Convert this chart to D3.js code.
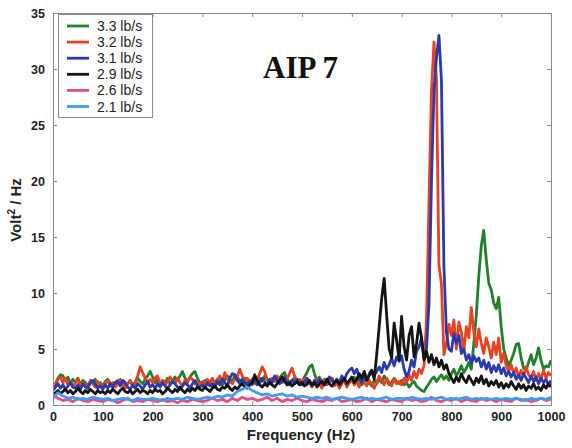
<!DOCTYPE html>
<html><head><meta charset="utf-8">
<script src="https://cdn.jsdelivr.net/npm/d3@7"></script>
<style>body{margin:0;background:#fff}</style>
</head><body><svg id="c" width="572" height="448"></svg>
<script>
const freq5 = d3.range(0, 1001, 5);
const freq10 = d3.range(0, 1001, 10);
const seriesNames = ["3.3 lb/s","3.2 lb/s","3.1 lb/s","2.9 lb/s","2.6 lb/s","2.1 lb/s"];
const seriesColors = ["#22802a","#e8421e","#2b3aae","#141414","#e64f86","#3f9cf2"];
const xTicks = [0,100,200,300,400,500,600,700,800,900,1000];
const yTicks = [0,5,10,15,20,25,30,35];

const s33 = [1.6,1.9,2.4,2.7,2.6,2.2,2.5,1.9,2.3,2.0, 2.4,1.8,2.2,2.0,1.7,2.1,1.9,2.3,1.8,2.0,
 1.7,2.1,2.3,1.9,1.6,2.0,2.2,1.8,2.1,1.7, 1.9,2.2,1.8,2.0,2.4,2.1,1.9,2.3,2.6,3.0,
 2.5,2.0,2.3,1.8,2.2,2.0,2.4,1.9,2.1,2.5, 2.2,2.6,3.0,2.4,2.1,2.5,2.8,3.0,2.4,2.0,
 1.8,2.2,1.9,2.1,1.7,2.0,2.3,2.1,1.8,2.2, 2.6,2.4,2.0,2.7,2.5,2.2,2.0,2.4,1.9,2.1,
 1.8,2.2,2.0,2.4,2.1,2.6,2.3,2.0,2.2,2.5, 2.1,2.4,2.7,2.9,2.3,2.0,2.2,2.4,2.0,1.9,
 2.1,2.5,2.9,3.4,3.6,2.8,2.2,2.5,2.0,2.3, 1.9,2.1,2.4,2.0,2.2,1.8,2.1,2.3,1.9,2.0,
 2.2,2.5,2.0,2.3,1.8,2.1,2.4,2.0,1.7,2.2, 1.9,2.3,2.0,2.6,2.2,1.8,2.0,2.4,2.1,1.9,
 2.2,1.8,2.0,1.6,1.9,2.1,1.7,1.5,1.3,1.2, 1.6,1.9,2.3,2.5,2.1,2.4,2.7,2.3,2.6,2.2,
 2.8,3.2,2.6,3.0,3.5,2.9,3.3,3.8,3.2,5.5, 8.0,11.5,14.2,15.6,13.0,10.9,10.3,9.1,8.6,9.6,
 7.0,5.0,4.2,3.5,4.0,4.6,5.4,5.5,4.2,3.3, 3.1,3.8,4.5,3.6,4.2,5.1,4.0,3.2,3.5,3.4, 4.0];
const s32 = [1.5,1.8,2.3,2.5,2.0,2.4,1.8,2.1,1.6,2.0, 2.3,1.7,2.0,1.8,1.5,2.2,1.9,1.6,2.1,1.8,
 1.6,1.9,2.2,1.7,2.0,1.6,1.9,2.3,1.8,1.5, 1.9,2.1,1.7,2.0,2.6,3.4,2.9,2.4,2.0,2.3,
 2.0,2.4,2.6,1.9,2.2,1.8,2.1,2.5,2.2,1.9, 2.4,2.0,1.7,2.2,2.0,2.5,2.3,1.9,2.1,1.8,
 2.1,1.8,2.3,2.0,2.4,1.9,2.2,2.6,2.0,2.9, 2.4,2.1,1.9,2.3,2.5,3.2,2.6,2.0,2.4,2.1,
 2.3,1.9,2.2,2.8,3.4,3.0,2.3,2.0,2.4,2.1, 2.6,2.2,2.0,2.5,2.3,2.8,3.3,2.6,2.1,2.3,
 2.0,2.4,1.8,2.1,1.6,2.0,2.3,1.9,1.5,2.2, 1.8,2.1,2.4,1.7,2.0,1.5,1.9,2.2,1.6,2.0,
 2.3,1.8,2.1,1.6,2.4,2.0,1.7,2.2,1.9,1.5, 2.0,2.6,2.2,1.8,2.4,2.0,1.7,2.3,1.9,2.1,
 1.8,2.4,2.0,2.7,2.2,3.0,2.4,3.2,2.8,3.5, 7.5,18.0,28.0,32.4,29.0,12.5,10.8,4.5,5.5,7.2,
 6.2,7.6,5.0,7.4,6.5,4.8,7.0,6.0,8.7,6.5, 5.2,6.8,5.5,4.6,6.0,5.2,4.2,5.6,4.5,6.0,
 3.8,4.6,3.5,3.0,3.6,2.8,3.3,2.5,3.1,2.6, 3.4,2.7,2.4,3.0,2.2,2.8,2.3,3.1,2.4,2.9, 2.6];
const s31 = [1.3,1.6,1.9,1.5,1.8,1.4,1.7,2.0,1.6,1.5, 1.8,1.4,1.9,1.6,1.5,2.0,2.2,1.8,1.5,1.7,
 1.4,1.8,1.5,1.9,1.6,2.0,2.1,1.7,2.2,2.0, 1.6,1.4,1.8,1.5,1.9,1.7,1.4,1.8,2.1,1.6,
 1.8,1.5,1.9,1.6,2.0,1.7,1.5,1.8,2.1,1.9, 1.6,1.4,1.7,2.0,1.8,1.5,1.9,2.2,1.7,1.6,
 1.8,1.5,2.0,1.7,1.9,1.6,2.1,1.8,2.3,2.0, 1.7,2.4,2.8,2.7,2.2,1.9,2.3,2.0,1.8,2.1,
 1.9,2.2,1.8,2.0,2.4,2.1,1.8,2.3,2.0,2.6, 2.2,1.9,2.1,2.5,2.0,1.8,2.2,1.9,2.3,2.0,
 1.8,2.1,2.4,2.0,1.7,2.2,1.9,2.3,2.0,1.8, 2.1,2.5,2.2,1.9,2.3,2.0,2.6,2.2,2.8,3.1,
 3.3,2.8,3.2,2.4,2.0,2.6,2.2,2.8,3.1,2.6, 3.0,3.4,2.9,3.8,3.2,3.6,4.2,3.5,4.3,3.9,
 4.4,3.2,2.5,3.0,4.0,3.4,4.8,5.2,6.0,4.2, 5.0,9.0,20.0,28.0,31.0,33.0,29.0,12.3,6.5,5.0,
 4.8,6.4,5.5,6.2,4.6,5.0,4.0,4.5,3.7,4.4, 3.9,4.2,3.4,4.0,3.2,3.8,2.9,3.5,3.0,3.6,
 2.8,3.3,2.6,3.0,2.5,2.9,2.3,2.7,2.2,2.8, 2.4,2.0,2.6,2.1,2.5,1.9,2.4,2.0,2.3,1.8, 2.2];
const s29 = [0.9,1.1,1.3,1.0,1.2,1.4,1.1,1.3,1.0,1.2, 1.5,1.2,1.0,1.3,1.1,1.4,1.2,1.0,1.3,1.1,
 1.2,1.0,1.3,1.1,1.4,1.2,1.0,1.3,1.5,1.2, 1.1,1.3,1.0,1.2,1.4,1.1,1.3,1.2,1.0,1.3,
 1.1,1.4,1.2,1.3,1.0,1.2,1.5,1.3,1.1,1.4, 1.2,1.6,1.3,1.1,1.4,1.2,1.5,1.3,1.6,1.4,
 1.3,1.6,1.4,1.2,1.5,1.7,1.4,1.3,1.6,1.5, 1.8,1.5,1.3,1.6,1.4,1.7,1.9,1.6,1.5,1.8,
 2.0,2.7,2.2,1.8,1.6,1.9,1.7,2.0,1.8,1.6, 1.9,2.2,2.5,2.1,1.8,2.0,1.7,1.9,2.1,1.8,
 2.0,1.7,1.9,2.2,1.8,2.0,1.6,1.9,2.1,1.8, 2.3,1.9,1.7,2.0,2.2,1.8,2.1,2.4,1.9,2.2,
 2.5,2.0,2.3,2.8,2.4,3.0,2.2,2.6,3.1,2.3, 4.5,7.0,9.5,11.3,8.0,5.0,4.2,7.3,5.8,4.0,
 7.9,5.2,4.0,6.2,7.0,4.3,5.5,7.3,6.0,4.0, 4.8,3.8,4.5,3.6,4.2,3.4,4.0,3.2,3.6,2.8,
 2.4,2.0,2.5,2.1,2.8,2.3,2.0,2.6,2.2,1.8, 2.4,2.0,2.6,1.9,2.3,1.7,2.1,1.8,2.2,1.6,
 2.0,1.5,1.9,1.6,2.1,1.7,1.4,1.9,1.5,1.8, 1.3,1.7,1.5,1.9,1.4,1.6,1.3,1.8,1.5,1.9, 1.6];
const s26 = [0.9,0.6,0.4,0.5,0.3,0.6,0.4,0.3,0.5,0.4,
 0.3,0.5,0.4,0.2,0.4,0.6,0.3,0.4,0.3,0.5,
 0.4,0.3,0.5,0.3,0.4,0.2,0.4,0.3,0.5,0.4,
 0.3,0.4,0.6,0.4,0.5,0.3,0.6,0.4,0.7,0.5,
 0.6,0.4,0.5,0.7,0.4,0.6,0.3,0.5,0.4,0.6,
 0.4,0.3,0.5,0.4,0.3,0.5,0.4,0.6,0.3,0.4,
 0.5,0.3,0.4,0.6,0.3,0.5,0.4,0.3,0.5,0.4,
 0.3,0.6,0.4,0.5,0.3,0.4,0.7,0.4,0.3,0.5,
 0.4,0.6,0.3,0.5,0.4,0.3,0.6,0.4,0.5,0.3,
 0.5,0.4,0.3,0.6,0.4,0.5,0.3,0.4,0.6,0.4,0.5];
const s21 = [0.6,1.1,0.8,0.6,0.7,0.5,0.6,0.5,0.7,0.6,
 0.5,0.6,0.4,0.5,0.6,0.5,0.4,0.6,0.5,0.5,
 0.6,0.5,0.4,0.6,0.5,0.6,0.5,0.7,0.6,0.5,
 0.6,0.7,0.6,0.8,0.7,0.9,0.8,1.2,1.4,1.6,
 1.3,1.1,0.9,1.0,0.8,0.9,1.0,0.8,0.9,0.7,
 0.8,0.7,0.6,0.7,0.6,0.7,0.5,0.6,0.7,0.6,
 0.5,0.6,0.7,0.5,0.6,0.5,0.6,0.7,0.5,0.6,
 0.6,0.5,0.7,0.6,0.5,0.6,0.5,0.6,0.7,0.5,
 0.6,0.5,0.6,0.7,0.5,0.6,0.5,0.6,0.5,0.6,
 0.5,0.6,0.5,0.6,0.5,0.4,0.6,0.5,0.6,0.5,0.7];

const series = [
  {name: seriesNames[0], color: seriesColors[0], x: freq5, y: s33},
  {name: seriesNames[1], color: seriesColors[1], x: freq5, y: s32},
  {name: seriesNames[2], color: seriesColors[2], x: freq5, y: s31},
  {name: seriesNames[3], color: seriesColors[3], x: freq5, y: s29},
  {name: seriesNames[4], color: seriesColors[4], x: freq10, y: s26},
  {name: seriesNames[5], color: seriesColors[5], x: freq10, y: s21}
];

const L = 53, R = 551, T = 13, B = 405;
const svg = d3.select("#c");
const x = d3.scaleLinear().domain([0, 1000]).range([L, R]);
const y = d3.scaleLinear().domain([0, 35]).range([B, T]);

svg.append("clipPath").attr("id","clip").append("rect")
  .attr("x", L).attr("y", T).attr("width", R - L).attr("height", B - T);

const lineGen = d3.line().x(d => x(d[0])).y(d => y(d[1]));
const g = svg.append("g").attr("clip-path", "url(#clip)");
series.forEach(s => {
  g.append("path")
    .attr("d", lineGen(s.x.map((f, i) => [f, s.y[i]])))
    .attr("fill", "none").attr("stroke", s.color)
    .attr("stroke-width", 2.8).attr("stroke-linejoin", "round");
});

const axColor = "#8a8a8a";
const font = "'Liberation Sans', Arial, sans-serif";
const xb = svg.append("g").attr("transform", `translate(0,${B})`)
  .call(d3.axisBottom(x).tickValues(xTicks).tickSize(-4).tickPadding(7).tickFormat(d3.format("d")));
const xt = svg.append("g").attr("transform", `translate(0,${T})`)
  .call(d3.axisTop(x).tickValues(xTicks).tickSize(-4).tickFormat(""));
const yl = svg.append("g").attr("transform", `translate(${L},0)`)
  .call(d3.axisLeft(y).tickValues(yTicks).tickSize(-4).tickPadding(8));
const yr = svg.append("g").attr("transform", `translate(${R},0)`)
  .call(d3.axisRight(y).tickValues(yTicks).tickSize(-4).tickFormat(""));
[xb, xt, yl, yr].forEach(a => {
  a.selectAll(".domain").attr("stroke", axColor).attr("stroke-width", 1);
  a.selectAll(".tick line").attr("stroke", axColor);
  a.selectAll("text").attr("font-family", font).attr("font-size", 12.5)
    .attr("font-weight", "bold").attr("fill", "#222");
});

svg.append("text").attr("x", 301).attr("y", 440).attr("text-anchor", "middle")
  .attr("font-family", font).attr("font-size", 15).attr("font-weight", "bold").attr("fill", "#222")
  .text("Frequency (Hz)");
const yLab = svg.append("text").attr("transform", "translate(21,210) rotate(-90)")
  .attr("text-anchor", "middle").attr("font-family", font).attr("font-size", 15)
  .attr("font-weight", "bold").attr("fill", "#222");
yLab.append("tspan").text("Volt");
yLab.append("tspan").attr("dy", -6).attr("font-size", 10).text("2");
yLab.append("tspan").attr("dy", 6).text(" / Hz");

svg.append("text").attr("x", 263).attr("y", 78)
  .attr("font-family", "'Liberation Serif', 'Times New Roman', serif").attr("font-size", 31)
  .attr("font-weight", "bold").attr("fill", "#111").text("AIP 7");

const lg = svg.append("g");
lg.append("rect").attr("x", 58.5).attr("y", 14.5).attr("width", 94).attr("height", 103)
  .attr("fill", "#fff").attr("stroke", axColor);
series.forEach((s, i) => {
  const cy = 26 + i * 16.1;
  lg.append("line").attr("x1", 67).attr("x2", 89).attr("y1", cy).attr("y2", cy)
    .attr("stroke", s.color).attr("stroke-width", 2.8);
  lg.append("text").attr("x", 97).attr("y", cy + 5).attr("font-family", font)
    .attr("font-size", 14).attr("fill", "#222").text(s.name);
});
</script></body></html>
